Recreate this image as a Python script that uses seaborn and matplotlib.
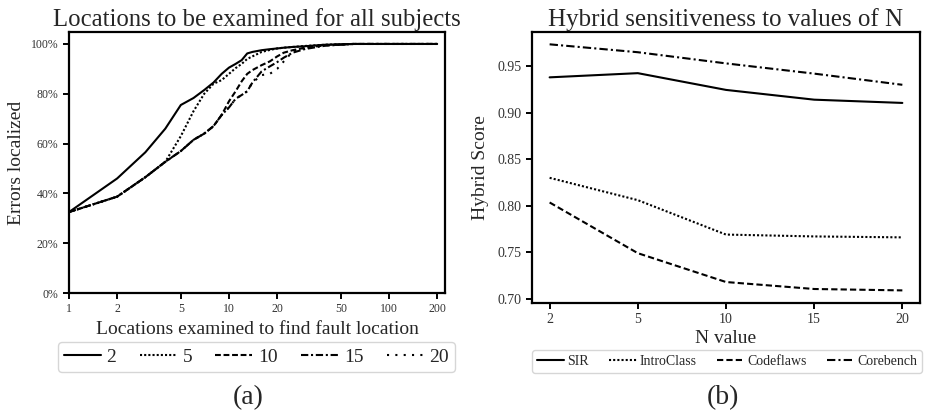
import numpy as np
import pandas as pd
import matplotlib
matplotlib.use("Agg")
import matplotlib.pyplot as plt
import matplotlib.ticker as mticker
import seaborn as sns

# -----------------------------------
# Data (a): cumulative errors localized
# -----------------------------------

locations = [1, 2, 3, 4, 5, 6, 7, 8, 9, 10, 11, 12, 13, 14, 16, 18, 20, 22, 25, 30, 40, 60, 100, 200]

n2 = [32.5, 46.0, 56.5, 66.0, 75.5, 78.3, 81.5, 84.5, 88.0, 90.5, 92.0, 93.5, 96.2, 96.8,
      97.5, 97.9, 98.2, 98.5, 98.8, 99.1, 99.7, 100, 100, 100]
n5 = [32.5, 38.7, 46.5, 52.7, 63.0, 73.0, 80.0, 84.0, 85.5, 88.0, 90.3, 92.0, 94.0, 95.0,
      96.8, 97.6, 98.2, 98.5, 98.8, 99.2, 99.7, 100, 100, 100]
n10 = [32.5, 38.7, 46.5, 52.7, 57.0, 61.5, 64.0, 67.0, 71.5, 77.0, 81.0, 85.0, 88.0, 89.5,
       91.5, 93.0, 95.0, 96.5, 97.5, 98.5, 99.5, 100, 100, 100]
n15 = [32.5, 38.7, 46.5, 52.7, 57.0, 61.5, 64.0, 67.0, 71.5, 74.5, 78.0, 79.5, 81.0, 84.5,
       89.0, 91.0, 92.7, 94.5, 96.5, 98.0, 99.3, 100, 100, 100]
n20 = [32.5, 38.7, 46.5, 52.7, 57.0, 61.5, 64.0, 67.0, 71.5, 74.5, 78.0, 79.5, 81.0, 84.5,
       87.5, 88.0, 90.0, 93.0, 97.0, 98.5, 99.5, 100, 100, 100]

n_labels = ["2", "5", "10", "15", "20"]

# -----------------------------------
# Data (b): hybrid score vs N
# -----------------------------------

n_values = ["2", "5", "10", "15", "20"]
sir = [0.938, 0.9425, 0.9245, 0.914, 0.9105]
introclass = [0.830, 0.806, 0.769, 0.767, 0.766]
codeflaws = [0.8035, 0.749, 0.718, 0.7105, 0.709]
corebench = [0.9735, 0.965, 0.953, 0.942, 0.930]

subjects = ["SIR", "IntroClass", "Codeflaws", "Corebench"]

df_a = pd.DataFrame({
    "x": locations * 5,
    "y": n2 + n5 + n10 + n15 + n20,
    "N": [lab for lab in n_labels for _ in locations],
})

df_b = pd.DataFrame({
    "N": n_values * 4,
    "score": sir + introclass + codeflaws + corebench,
    "subject": [s for s in subjects for _ in n_values],
})

# -----------------------------------
# Style
# -----------------------------------

sns.set_style("ticks")
plt.rcParams["font.family"] = ["Liberation Serif", "DejaVu Serif"]
plt.rcParams["axes.linewidth"] = 1.6
plt.rcParams["axes.edgecolor"] = "black"
plt.rcParams["xtick.color"] = "black"
plt.rcParams["ytick.color"] = "black"
plt.rcParams["xtick.major.width"] = 1.4
plt.rcParams["ytick.major.width"] = 1.4
plt.rcParams["xtick.major.size"] = 4
plt.rcParams["ytick.major.size"] = 4

fig = plt.figure(figsize=(9.26, 4.12), dpi=100)
ax1 = fig.add_axes([0.0745, 0.2888, 0.4061, 0.6335])
ax2 = fig.add_axes([0.5745, 0.2653, 0.4190, 0.6570])

# -----------------------------------
# Plot (a)
# -----------------------------------

dash_a = {"2": "", "5": (1, 1), "10": (2.8, 1.3), "15": (3.5, 1.3, 1, 1.3), "20": (1, 3)}

sns.lineplot(
    data=df_a, x="x", y="y", style="N", style_order=n_labels,
    dashes=dash_a, color="black", linewidth=1.5, ax=ax1
)

ax1.set_xscale("log")
ax1.set_xlim(1, 224)
ax1.set_ylim(0, 104.8)
ax1.set_xticks([1, 2, 5, 10, 20, 50, 100, 200])
ax1.xaxis.set_major_formatter(mticker.FuncFormatter(lambda v, p: f"{v:g}"))
ax1.xaxis.set_minor_locator(mticker.NullLocator())
ax1.set_yticks([0, 20, 40, 60, 80, 100])
ax1.yaxis.set_major_formatter(mticker.FuncFormatter(lambda v, p: f"{v:.0f}%"))
ax1.tick_params(labelsize=8.5, colors="#333333")
ax1.tick_params(axis="both", color="black")

ax1.set_title("Locations to be examined for all subjects", fontsize=17.8, pad=4)
ax1.set_xlabel("Locations examined to find fault location", fontsize=14, labelpad=4)
ax1.set_ylabel("Errors localized", fontsize=14, labelpad=4)

ax1.legend(
    loc="center", bbox_to_anchor=(0.277, 0.1335), bbox_transform=fig.transFigure,
    ncol=5, fontsize=14, handlelength=1.9, handletextpad=0.3, columnspacing=1.2,
    borderpad=0.3, frameon=True
)

# -----------------------------------
# Plot (b)
# -----------------------------------

dash_b = {"SIR": "", "IntroClass": (1, 1), "Codeflaws": (3, 1.5), "Corebench": (4, 1.5, 1, 1.5)}

sns.lineplot(
    data=df_b, x="N", y="score", style="subject", style_order=subjects,
    dashes=dash_b, color="black", linewidth=1.5, ax=ax2, sort=False
)

ax2.set_yticks([0.70, 0.75, 0.80, 0.85, 0.90, 0.95])
ax2.yaxis.set_major_formatter(mticker.FuncFormatter(lambda v, p: f"{v:.2f}"))
ax2.tick_params(labelsize=10, colors="#333333")
ax2.tick_params(axis="both", color="black")

ax2.set_title("Hybrid sensitiveness to values of N", fontsize=18, pad=4)
ax2.set_xlabel("N value", fontsize=14, labelpad=3)
ax2.set_ylabel("Hybrid Score", fontsize=14, labelpad=6)

ax2.legend(
    loc="center", bbox_to_anchor=(0.785, 0.1226), bbox_transform=fig.transFigure,
    ncol=4, fontsize=10, handlelength=2.0, handletextpad=0.2, columnspacing=1.45,
    borderpad=0.35, frameon=True
)

# -----------------------------------
# Panel labels
# -----------------------------------

fig.text(0.268, 0.036, "(a)", ha="center", va="center", fontsize=20)
fig.text(0.781, 0.036, "(b)", ha="center", va="center", fontsize=20)

fig.savefig("out.png", dpi=100)
plt.close(fig)
